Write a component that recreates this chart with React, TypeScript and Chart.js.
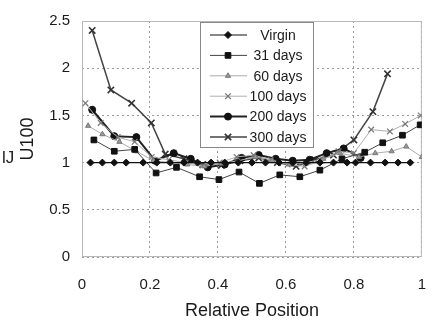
import React, { useEffect, useRef } from 'react';
import { Chart, registerables } from 'chart.js';

Chart.register(...registerables);

// ---- data ----
const seriesNames = ['Virgin', '31 days', '60 days', '100 days', '200 days', '300 days'];

const virginX = [0.025, 0.06, 0.095, 0.13, 0.18, 0.22, 0.26, 0.3, 0.34, 0.38, 0.42, 0.46, 0.5, 0.54, 0.58, 0.62, 0.66, 0.7, 0.74, 0.78, 0.805, 0.849, 0.892, 0.93, 0.966];
const virginY = [1, 1, 1, 1, 1, 1, 1, 1, 1, 1, 1, 1, 1, 1, 1, 1, 1, 1, 1, 1, 1, 1, 1, 1, 1];

const d31X = [0.035, 0.095, 0.155, 0.218, 0.278, 0.346, 0.403, 0.462, 0.522, 0.582, 0.641, 0.7, 0.765, 0.832, 0.885, 0.943, 0.995];
const d31Y = [1.24, 1.12, 1.14, 0.89, 0.95, 0.85, 0.82, 0.9, 0.78, 0.87, 0.85, 0.92, 1.04, 1.11, 1.21, 1.29, 1.4];

const d60X = [0.018, 0.06, 0.11, 0.16, 0.21, 0.26, 0.31, 0.36, 0.41, 0.46, 0.51, 0.56, 0.61, 0.66, 0.71, 0.76, 0.815, 0.863, 0.911, 0.954, 1.0];
const d60Y = [1.39, 1.3, 1.22, 1.12, 1.02, 1.0, 0.98, 0.96, 0.99, 1.02, 1.06, 1.02, 0.98, 1.0, 1.04, 1.1, 1.06, 1.1, 1.12, 1.17, 1.06];

const d100X = [0.01, 0.055, 0.105, 0.155, 0.205, 0.255, 0.305, 0.355, 0.405, 0.455, 0.505, 0.555, 0.605, 0.655, 0.705, 0.755, 0.8, 0.851, 0.906, 0.951, 0.997];
const d100Y = [1.63, 1.42, 1.27, 1.22, 1.06, 1.03, 1.0, 0.97, 1.0, 1.06, 1.08, 1.03, 0.98, 0.96, 1.02, 1.12, 1.1, 1.35, 1.33, 1.41, 1.5];

const d200X = [0.03, 0.095, 0.16, 0.215, 0.27, 0.32, 0.37, 0.42, 0.47, 0.52, 0.57, 0.62, 0.67, 0.72, 0.77, 0.82];
const d200Y = [1.56, 1.28, 1.27, 1.02, 1.1, 1.04, 0.95, 0.98, 1.05, 1.08, 1.04, 1.02, 1.03, 1.1, 1.15, 1.05];

const d300X = [0.03, 0.085, 0.146, 0.204, 0.245, 0.3, 0.355, 0.41, 0.465, 0.52, 0.575, 0.63, 0.685, 0.74, 0.8, 0.856, 0.899];
const d300Y = [2.4, 1.77, 1.63, 1.42, 1.09, 1.04, 0.98, 0.97, 1.02, 1.05, 1.0, 0.96, 1.03, 1.08, 1.24, 1.54, 1.94];

const xTickLabels = ['0', '0.2', '0.4', '0.6', '0.8', '1'];
const yTickLabels = ['0', '0.5', '1', '1.5', '2', '2.5'];

const xTitle = 'Relative Position';
const yTitle = 'U100';

// ---- helpers ----
const toPoints = (xs: number[], ys: number[]) => xs.map((x, i) => ({ x, y: ys[i] }));

function drawMarker(ctx: CanvasRenderingContext2D, style: string, x: number, y: number, r: number, fill: string, stroke: string, lw: number) {
  ctx.save();
  ctx.fillStyle = fill;
  ctx.strokeStyle = stroke;
  ctx.lineWidth = lw;
  ctx.beginPath();
  if (style === 'rectRot') {
    ctx.moveTo(x, y - r);
    ctx.lineTo(x + r, y);
    ctx.lineTo(x, y + r);
    ctx.lineTo(x - r, y);
    ctx.closePath();
    ctx.fill();
    ctx.stroke();
  } else if (style === 'rect') {
    const s = Math.SQRT1_2 * r;
    ctx.rect(x - s, y - s, 2 * s, 2 * s);
    ctx.fill();
    ctx.stroke();
  } else if (style === 'triangle') {
    ctx.moveTo(x, y - r);
    ctx.lineTo(x + r * 0.87, y + r * 0.5);
    ctx.lineTo(x - r * 0.87, y + r * 0.5);
    ctx.closePath();
    ctx.fill();
    ctx.stroke();
  } else if (style === 'crossRot') {
    const s = Math.SQRT1_2 * r;
    ctx.moveTo(x - s, y - s);
    ctx.lineTo(x + s, y + s);
    ctx.moveTo(x + s, y - s);
    ctx.lineTo(x - s, y + s);
    ctx.stroke();
  } else {
    ctx.arc(x, y, r, 0, Math.PI * 2);
    ctx.fill();
    ctx.stroke();
  }
  ctx.restore();
}

const framePlugin = {
  id: 'frame',
  beforeDatasetsDraw(chart: any) {
    const { ctx, chartArea } = chart;
    ctx.save();
    ctx.strokeStyle = '#b8b8b8';
    ctx.lineWidth = 1;
    ctx.strokeRect(chartArea.left + 0.5, chartArea.top + 0.5, chartArea.right - chartArea.left - 1, chartArea.bottom - chartArea.top - 1);
    ctx.restore();
  },
};

const legendPlugin = {
  id: 'insideLegend',
  afterDatasetsDraw(chart: any) {
    const { ctx, chartArea } = chart;
    const bx = chartArea.left + 118;
    const by = chartArea.top + 1;
    const bw = 113;
    const bh = 125;
    ctx.save();
    ctx.fillStyle = '#ffffff';
    ctx.fillRect(bx, by, bw, bh);
    ctx.strokeStyle = '#888888';
    ctx.lineWidth = 1;
    ctx.strokeRect(bx + 0.5, by + 0.5, bw, bh);
    ctx.font = '14px "Liberation Sans", Arial, sans-serif';
    ctx.textAlign = 'center';
    ctx.textBaseline = 'middle';
    chart.data.datasets.forEach((ds: any, i: number) => {
      const y = by + 13 + i * 20.4;
      ctx.save();
      ctx.strokeStyle = ds.borderColor;
      ctx.lineWidth = ds.borderWidth;
      ctx.beginPath();
      ctx.moveTo(bx + 10, y);
      ctx.lineTo(bx + 47, y);
      ctx.stroke();
      ctx.restore();
      drawMarker(ctx, ds.pointStyle, bx + 28, y, ds.pointRadius, ds.pointBackgroundColor, ds.pointBorderColor, ds.pointBorderWidth);
      ctx.fillStyle = '#1a1a1a';
      ctx.fillText(ds.label, bx + 78, y + 1);
    });
    ctx.restore();
  },
};

export default function App() {
  const ref = useRef<HTMLCanvasElement | null>(null);

  useEffect(() => {
    if (!ref.current) return;
    const font = '"Liberation Sans", Arial, sans-serif';
    const chart = new Chart(ref.current, {
      type: 'scatter',
      data: {
        datasets: [
          {
            label: seriesNames[0], data: toPoints(virginX, virginY), showLine: true,
            borderColor: '#111', borderWidth: 1.2, pointStyle: 'rectRot', pointRadius: 3.5,
            pointBackgroundColor: '#111', pointBorderColor: '#111', pointBorderWidth: 1,
          },
          {
            label: seriesNames[1], data: toPoints(d31X, d31Y), showLine: true,
            borderColor: '#444', borderWidth: 1, pointStyle: 'rect', pointRadius: 4,
            pointBackgroundColor: '#111', pointBorderColor: '#111', pointBorderWidth: 1,
          },
          {
            label: seriesNames[2], data: toPoints(d60X, d60Y), showLine: true,
            borderColor: '#aaa', borderWidth: 1, pointStyle: 'triangle', pointRadius: 3,
            pointBackgroundColor: '#999', pointBorderColor: '#777', pointBorderWidth: 1,
          },
          {
            label: seriesNames[3], data: toPoints(d100X, d100Y), showLine: true,
            borderColor: '#b0b0b0', borderWidth: 1, pointStyle: 'crossRot', pointRadius: 4,
            pointBackgroundColor: '#777', pointBorderColor: '#777', pointBorderWidth: 1.2,
          },
          {
            label: seriesNames[4], data: toPoints(d200X, d200Y), showLine: true,
            borderColor: '#222', borderWidth: 2, pointStyle: 'circle', pointRadius: 3.5,
            pointBackgroundColor: '#111', pointBorderColor: '#111', pointBorderWidth: 1,
          },
          {
            label: seriesNames[5], data: toPoints(d300X, d300Y), showLine: true,
            borderColor: '#444', borderWidth: 1.5, pointStyle: 'crossRot', pointRadius: 4.5,
            pointBackgroundColor: '#333', pointBorderColor: '#333', pointBorderWidth: 1.6,
          },
        ],
      },
      options: {
        animation: false,
        responsive: false,
        maintainAspectRatio: false,
        layout: { padding: { top: 17, right: 14, left: 0, bottom: 0 } },
        plugins: { legend: { display: false }, tooltip: { enabled: false } },
        scales: {
          x: {
            type: 'linear', min: 0, max: 1,
            afterFit: (s: any) => { s.height = 63; },
            ticks: {
              stepSize: 0.2, padding: 19, color: '#1a1a1a',
              font: { family: font, size: 15 },
              callback: (_v: any, i: number) => xTickLabels[i],
            },
            grid: { color: '#9a9a9a', drawTicks: false, lineWidth: 1 },
            border: { display: false, dash: [2, 3] },
            title: { display: true, text: xTitle, color: '#1a1a1a', font: { family: font, size: 18, lineHeight: 1 }, padding: { top: 0, bottom: 0 } },
          },
          y: {
            type: 'linear', min: 0, max: 2.5,
            afterFit: (s: any) => { s.width = 82; },
            ticks: {
              stepSize: 0.5, padding: 12, color: '#1a1a1a',
              font: { family: font, size: 15 },
              callback: (_v: any, i: number) => yTickLabels[i],
            },
            grid: { color: '#9a9a9a', drawTicks: false, lineWidth: 1 },
            border: { display: false, dash: [2, 3] },
            title: { display: true, text: yTitle, color: '#1a1a1a', font: { family: font, size: 18, lineHeight: 1 }, padding: { top: 19, bottom: 0 } },
          },
        },
      } as any,
      plugins: [framePlugin, legendPlugin],
    });
    return () => chart.destroy();
  }, []);

  return (
    <div style={{ position: 'absolute', left: 0, top: 0, width: 445, height: 320, background: '#fff', overflow: 'hidden' }}>
      <canvas ref={ref} width={445} height={320} style={{ width: 445, height: 320, display: 'block' }} />
      <div style={{ position: 'absolute', left: 2, top: 148, fontFamily: '"Liberation Sans", Arial, sans-serif', fontSize: 17, color: '#222' }}>lJ</div>
    </div>
  );
}
